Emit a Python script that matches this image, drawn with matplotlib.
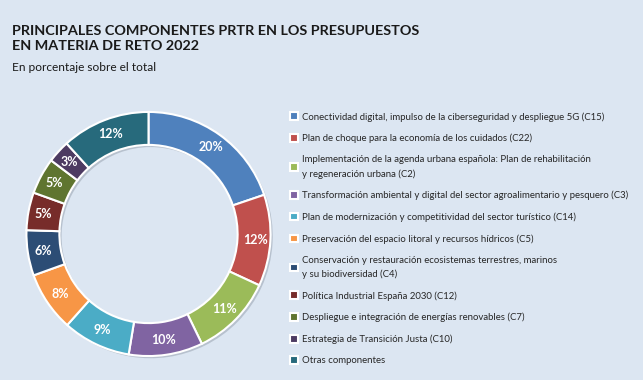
import matplotlib
matplotlib.use("Agg")
import matplotlib.pyplot as plt

categories = [
    "Conectividad digital, impulso de la ciberseguridad y despliegue 5G (C15)",
    "Plan de choque para la economía de los cuidados (C22)",
    "Implementación de la agenda urbana española: Plan de rehabilitación\ny regeneración urbana (C2)",
    "Transformación ambiental y digital del sector agroalimentario y pesquero (C3)",
    "Plan de modernización y competitividad del sector turístico (C14)",
    "Preservación del espacio litoral y recursos hídricos (C5)",
    "Conservación y restauración ecosistemas terrestres, marinos\ny su biodiversidad (C4)",
    "Política Industrial España 2030 (C12)",
    "Despliegue e integración de energías renovables (C7)",
    "Estrategia de Transición Justa (C10)",
    "Otras componentes",
]
values = [19.8, 12.1, 10.9, 9.8, 9.0, 7.9, 6.0, 5.0, 4.8, 3.0, 11.7]
colors = ["#4F81BD", "#C0504D", "#9BBB59", "#8064A2", "#4BACC6", "#F79646",
          "#2C4D75", "#772C2A", "#5F7530", "#4D3B62", "#276A7C"]

title = "PRINCIPALES COMPONENTES PRTR EN LOS PRESUPUESTOS\nEN MATERIA DE RETO 2022"
subtitle = "En porcentaje sobre el total"

bg = "#DCE6F2"
W, H = 643, 380
fig = plt.figure(figsize=(W / 100, H / 100), dpi=100, facecolor=bg)
font = "Lato"

cx, cy, r = 148.5, 234, 124.5
ax = fig.add_axes([(cx - r) / W, (H - cy - r) / H, 2 * r / W, 2 * r / H])
ax.set_facecolor(bg)
ax.axis("off")

width = 0.27
# shadow
ax.pie(values, startangle=90, counterclock=False, radius=1.0, center=(0.018, -0.018),
       colors=["#8C96A3"] * len(values),
       wedgeprops=dict(width=width, linewidth=0, alpha=0.45), frame=False)
wedges, texts, autotexts = ax.pie(
    values, startangle=90, counterclock=False, radius=1.0, colors=colors,
    autopct=lambda p: f"{p:.0f}%", pctdistance=0.875,
    wedgeprops=dict(width=width, edgecolor="white", linewidth=1.5),
    textprops=dict(color="white", fontsize=9, fontweight="bold", family=font))
ax.set_xlim(-1.02, 1.02)
ax.set_ylim(-1.02, 1.02)
ax.set_aspect("equal")

fig.text(12 / W, 1 - 50 / H, title, ha="left", va="baseline", fontsize=10.4,
         fontweight="bold", family=font, color="#1A1A1A", linespacing=1.3)
fig.text(12 / W, 1 - 71 / H, subtitle, ha="left", va="baseline", fontsize=8.6,
         family=font, color="#1A1A1A")

leg = fig.legend(wedges, categories, loc="upper left",
                 bbox_to_anchor=(290 / W, 1 - 112 / H), frameon=False,
                 prop=dict(family=font, size=6.9), labelcolor="#262626",
                 handlelength=0.85, handleheight=0.85, handletextpad=0.4,
                 labelspacing=1.27, borderaxespad=0, borderpad=0)
for t in leg.get_texts():
    t.set_linespacing(1.6)

fig.savefig("out.png", dpi=100, facecolor=bg)
